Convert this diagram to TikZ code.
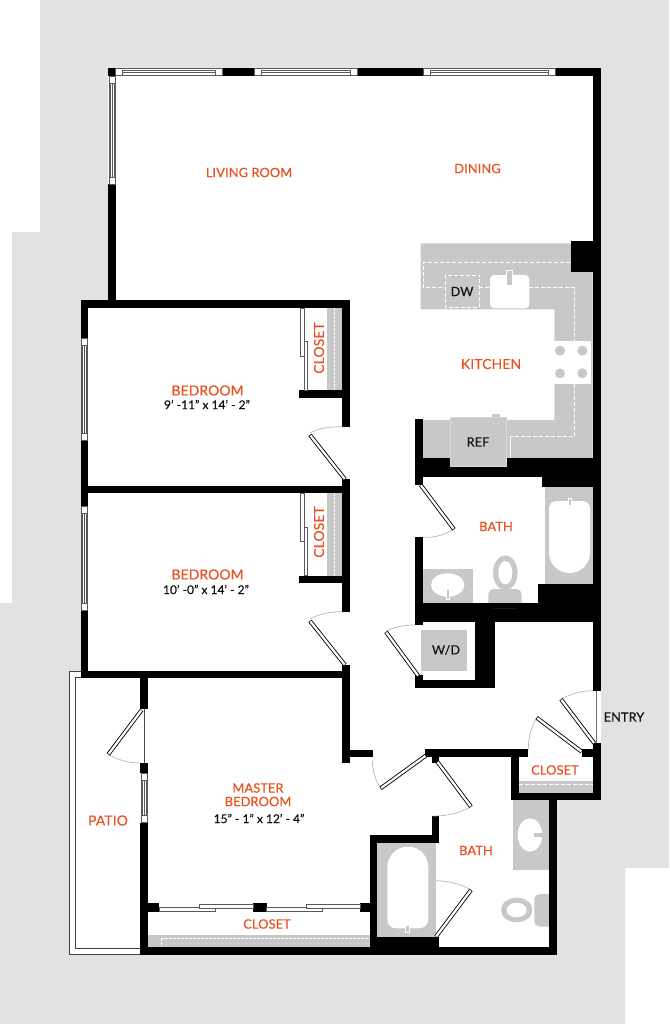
\documentclass[tikz,border=0pt]{standalone}
\usepackage{fontspec}
\setmainfont{Lato}
\definecolor{bggrey}{HTML}{E2E2E2}
\definecolor{fixt}{HTML}{C8C8C8}
\definecolor{lab}{HTML}{E8501F}
\definecolor{ink}{HTML}{111111}
\definecolor{arcgrey}{HTML}{B4B4B4}
\tikzset{
  roomlabel/.style={text=lab,font=\fontsize{9.6}{11}\selectfont\addfontfeature{LetterSpace=1,FakeBold=0.25},inner sep=0pt,align=center},
  roomlabelbig/.style={text=lab,font=\fontsize{10.4}{12}\selectfont\addfontfeature{LetterSpace=1,FakeBold=0.25},inner sep=0pt,align=center},
  dimlabel/.style={text=ink,font=\fontsize{9}{10}\selectfont\addfontfeature{FakeBold=0.25},inner sep=0pt},
  fixlabel/.style={text=ink,font=\fontsize{9.5}{11}\selectfont\addfontfeature{LetterSpace=1,FakeBold=0.25},inner sep=0pt},
  swing/.style={draw=arcgrey,line width=.5pt},
  whitedash/.style={draw=white,line width=.5pt,dash pattern=on 3pt off 1.5pt},
  fixture/.style={fill=fixt},
  basin/.style={fill=white},
  windowline/.style={draw=black!65,line width=.4pt},
}
\newcommand{\wl}[4]{\fill[black] (#1,#2) rectangle (#3,#4);}
\newcommand{\doorleaf}[4]{\draw[black,line width=3pt] (#1,#2) -- (#3,#4);\draw[white,line width=1.7pt,shorten <=.3pt,shorten >=.5pt] (#1,#2) -- (#3,#4);}
\newcommand{\hwin}[3]{% x1 x2 y-top
  \filldraw[fill=white,windowline] (#1,#3+.5) rectangle (#2,#3+7);
  \draw[windowline] (#1+7,#3+2) rectangle (#2-7,#3+7);
  \draw[windowline] (#1+7,#3+4.5) -- (#2-7,#3+4.5);
}
\newcommand{\vwin}[3]{% y1 y2 x-left
  \filldraw[fill=white,windowline] (#3+.5,#1) rectangle (#3+6.5,#2);
  \draw[windowline] (#3+1.5,#1+7) rectangle (#3+5.5,#2-7);
  \draw[windowline] (#3+3.5,#1+7) -- (#3+3.5,#2-7);
}
\begin{document}
\begin{tikzpicture}[x=.75pt,y=-.75pt]
\useasboundingbox (0,0) rectangle (669,1024);
% site
\fill[bggrey] (40,0) -- (669,0) -- (669,868) -- (625,868) -- (625,1024) -- (0,1024) -- (0,603) -- (12,603) -- (12,232) -- (40,232) -- cycle;
\fill[white] (108,68) -- (601,68) -- (601,800) -- (557,800) -- (557,955) -- (69,955) -- (69,672) -- (81,672) -- (81,300) -- (108,300) -- cycle;
% patio outline
\draw[black!75,line width=.45pt] (141,954) -- (69,954) -- (69,671.7) -- (81,671.7);
\draw[black!75,line width=.45pt] (141,948.7) -- (75.7,948.7) -- (75.7,677.3) -- (141,677.3);
% kitchen counter
\fill[fixt] (420.7,243.3) -- (592.7,243.3) -- (592.7,458) -- (423,458) -- (423,420) -- (554.3,420) -- (554.3,309.3) -- (420.7,309.3) -- cycle;
\draw[whitedash] (570,262.3) -- (423.3,262.3) -- (423.3,287.3) -- (445.7,287.3);
\draw[whitedash] (479.3,287.3) -- (490,287.3);
\draw[whitedash] (529.3,287.3) -- (574,287.3) -- (574,340.7);
\draw[whitedash] (574,384) -- (574,436.7) -- (510,436.7) -- (510,458);
\draw[whitedash] (445.7,275) rectangle (479.3,307.3);
\fill[basin,rounded corners=3pt] (490,275) rectangle (529.3,308.3);
\filldraw[fill=fixt,draw=white,line width=.6pt] (506.7,270) rectangle (512.3,285);
\fill[white] (551.7,340.7) rectangle (591,384);
\foreach \cx/\cy in {560/350.7,582.3/350.7,560/373.3,582.3/373.3}{\fill[fixt] (\cx,\cy) circle [radius=5];}
% walls
\wl{108}{68}{115.7}{76}
\wl{222}{68}{254}{76}
\wl{357}{68}{423}{76}
\wl{555}{68}{601}{76}
\wl{593}{68}{601}{691}
\wl{570.7}{240.7}{593}{272.3}
\wl{108}{184}{115.7}{304}
\wl{80.7}{300}{350}{308}
\wl{80.7}{300}{88}{338}
\wl{80.7}{440.7}{88}{493.3}
\wl{80.7}{485.7}{88}{506.7}
\wl{80.7}{610}{88}{678.3}
\wl{80.7}{485.7}{350}{493.3}
\wl{80.7}{671}{350}{678.3}
\wl{342.3}{300}{350}{426.7}
\wl{342.3}{479.3}{350}{611.7}
\wl{342.3}{665}{350}{763.3}
\wl{350}{750}{372.7}{757.3}
\wl{299}{390}{342.3}{397.7}
\wl{299}{575.7}{342.3}{582.7}
\wl{140}{678}{147.7}{709}
\wl{140}{763}{147.7}{773}
\wl{140}{822.7}{147.7}{955}
\wl{140}{947.3}{556.7}{955}
\wl{148}{903.3}{159}{911.7}
\wl{253.3}{903.3}{266.7}{911.7}
\wl{360}{903.3}{372}{911.7}
% kitchen / bath core
\wl{415.3}{419.3}{423}{485}
\wl{415.3}{458}{593}{477.3}
\wl{542.3}{477}{593}{487.3}
\wl{415.3}{537.3}{423}{603}
\wl{538.3}{584.3}{593}{603}
\wl{415.3}{602.7}{593}{621.7}
\wl{475}{621.7}{495}{688}
\wl{415}{680}{495}{687.7}
\wl{415}{675}{423}{680}
\wl{415.3}{620}{423}{625}
% master bath and closet
\wl{425}{749.3}{528.3}{757.3}
\wl{431.7}{757}{439.3}{762.7}
\wl{431.7}{816}{439.3}{842.7}
\wl{370}{835}{439.3}{842.7}
\wl{370}{835}{377.3}{955}
\wl{370}{936.7}{439.3}{955}
\wl{511}{757}{519}{800}
\wl{511}{792.7}{600.7}{800}
\wl{592.7}{743.3}{600.7}{800}
\wl{581.7}{749.3}{593}{757.3}
\wl{549.3}{800}{556.7}{955}
% ref
\filldraw[fill=fixt,draw=white!85!black,line width=.6pt] (450,417.3) rectangle (506,466.7);
\fill[fixt] (491.7,414.3) rectangle (500,417);
\draw[whitedash] (510,436.7) -- (510,458);
% windows
\hwin{115.7}{222}{68}
\hwin{254}{357}{68}
\hwin{423}{555}{68}
\vwin{76}{184}{108.5}
\vwin{338}{440.7}{81}
\vwin{506.7}{610}{81}
\vwin{773}{822.7}{141}
% closets bedrooms
\fill[fixt] (327.3,308) rectangle (342.3,390);
\fill[fixt] (327.3,493.3) rectangle (342.3,575.7);
\draw[white,line width=.3pt,dash pattern=on 2pt off 1pt] (334.5,308) -- (334.5,390);
\draw[white,line width=.3pt,dash pattern=on 2pt off 1pt] (334.5,493.3) -- (334.5,575.7);
\foreach \t/\b in {308/390,493.3/575.7}{
  \draw[windowline,fill=white] (300.7,\t) rectangle (304.3,\t+48);
  \draw[windowline,fill=white] (304.3,\t+33.5) rectangle (307.7,\b);
}
% master closet
\fill[fixt] (147.7,935) rectangle (370,947.3);
\draw[white,line width=.25pt,dash pattern=on 2pt off 1pt] (161,938) -- (370,938);
\draw[white,line width=.5pt,dash pattern=on 2pt off 1pt] (161,938) -- (161,947);
\draw[windowline,fill=white] (159,907.3) rectangle (215,911);
\draw[windowline,fill=white] (199.3,904.3) rectangle (253.3,908.3);
\draw[windowline,fill=white] (266.7,907.3) rectangle (322.3,911);
\draw[windowline,fill=white] (306.7,904.3) rectangle (360,908.3);
% entry closet shelf
\fill[fixt] (519,780.7) rectangle (592.7,792.7);
\draw[white,line width=.5pt,dash pattern=on 3pt off 1.5pt] (519,784) -- (592.7,784);
% tub upper bath
\fill[fixt] (545,487.3) rectangle (592.7,584.3);
\fill[white] (549,510) .. controls (549,503) and (552,501) .. (558,501) -- (581,501) .. controls (587,501) and (590,503) .. (590,510) -- (590,552) .. controls (590,565) and (580,573) .. (569.5,573) .. controls (559,573) and (549,565) .. (549,552) -- cycle;
\filldraw[fill=fixt,draw=white,line width=.4pt] (568.3,498.5) rectangle (571.7,505);
% sink upper bath
\fill[fixt] (423,569.3) rectangle (472.7,603);
\fill[white] (447.7,585) ellipse [x radius=16.7,y radius=11.7];
\filldraw[fill=fixt,draw=white,line width=.4pt] (445.8,589) rectangle (449.6,599);
% toilet upper bath
\fill[fixt] (505.3,572.7) ellipse [x radius=12.3,y radius=17.3];
\fill[white] (505.3,572.7) ellipse [x radius=7,y radius=11.7];
\fill[fixt,rounded corners=4pt] (488.3,608) -- (488.3,589) -- (521.7,589) -- (521.7,608) -- cycle;
\wl{488}{603}{522}{608}
% W/D
\fill[fixt] (420.7,630) rectangle (466.7,671);
% master tub
\fill[fixt] (377.3,842.7) rectangle (436,936.7);
\fill[white] (387.3,868) .. controls (387.3,856) and (396,846.7) .. (407.8,846.7) .. controls (420,846.7) and (428.3,856) .. (428.3,868) -- (428.3,918) .. controls (428.3,925) and (425,928.3) .. (418,928.3) -- (397,928.3) .. controls (390.5,928.3) and (387.3,925) .. (387.3,918) -- cycle;
\filldraw[fill=fixt,draw=white,line width=.4pt] (405.2,925.5) rectangle (408.8,932);
% master sink
\fill[fixt] (513.3,800) rectangle (549.3,870);
\fill[white] (530,835) ellipse [x radius=12.3,y radius=16.7];
\fill[fixt] (534,832.7) rectangle (544.3,837.3);
% master toilet
\fill[fixt] (516.7,910) ellipse [x radius=15.7,y radius=12.3];
\fill[white] (516.7,910) ellipse [x radius=10,y radius=7.3];
\fill[fixt,rounded corners=4pt] (554,894) -- (534.3,894) -- (534.3,926.7) -- (554,926.7) -- cycle;
\wl{549.3}{890}{556.7}{930}
% door swings
\draw[swing] (310,433) .. controls (319,428) and (330,426.7) .. (342.3,426.7);
\draw[swing] (310,619) .. controls (319,614) and (330,611.7) .. (342.3,611.7);
\draw[swing] (108.3,754.3) .. controls (118,760) and (128,763) .. (140,763);
\draw[swing] (454,529.3) .. controls (444,535) and (434,538) .. (423,537.3);
\draw[swing] (386,631) .. controls (396,626.5) and (405,625) .. (415.3,625);
\draw[swing] (372.3,760) .. controls (372.5,770) and (375,780) .. (380.7,788.3);
\draw[swing] (471,806.7) .. controls (460,813) and (447,816) .. (433,816);
\draw[swing] (436,880.7) .. controls (449,881) and (461,884) .. (471,890);
\draw[swing] (561,699.3) .. controls (570,694) and (582,690.7) .. (593,690.7);
\draw[swing] (536.7,717.7) .. controls (531,727) and (528.3,738) .. (528.3,750);
\draw[black!70,line width=.5pt] (144,709) -- (144,763);
\draw[black!55,line width=.6pt] (596.7,690.7) -- (596.7,743.3);
% door leaves
\doorleaf{345}{479.3}{310}{435}
\doorleaf{345}{665}{310}{621}
\doorleaf{141.7}{710}{108.3}{754.3}
\doorleaf{420.7}{485}{454}{529.3}
\doorleaf{418.3}{676}{386}{632}
\doorleaf{425.7}{755.7}{380.7}{788.3}
\doorleaf{437.3}{761.7}{471}{806.7}
\doorleaf{436}{936.7}{471}{890}
\doorleaf{594.3}{743.3}{561}{699.3}
\doorleaf{581.7}{751.7}{536.7}{717.7}
% labels
\node[roomlabel] (living) at (249,172.5) {LIVING ROOM};
\node[roomlabel] (dining) at (477.5,168.5) {DINING};
\node[roomlabelbig] (kitchen) at (491,364) {KITCHEN};
\node[fixlabel] (dw) at (462,291.5) {DW};
\node[fixlabel] (ref) at (478,442) {REF};
\node[roomlabelbig] (bed1) at (207.5,390.5) {BEDROOM};
\node[dimlabel] (dim1) at (207,404.5) {9’ -11” x 14’ - 2”};
\node[roomlabelbig,rotate=90] (clo1) at (319,348) {CLOSET};
\node[roomlabelbig,rotate=90] (clo2) at (319,532) {CLOSET};
\node[roomlabelbig] (bed2) at (207.5,574.5) {BEDROOM};
\node[dimlabel] (dim2) at (206,589.5) {10’ -0” x 14’ - 2”};
\node[roomlabel] (bath1) at (496,526.5) {BATH};
\node[fixlabel] (wd) at (446,650) {W/D};
\node[fixlabel] (entry) at (624,717) {ENTRY};
\node[roomlabel] (clo3) at (555,770) {CLOSET};
\node[roomlabel] (bath2) at (476,850.5) {BATH};
\node[roomlabel] (master) at (258,788) {MASTER};
\node[roomlabel] (masterb) at (258,801.5) {BEDROOM};
\node[dimlabel] (dim3) at (259,818.5) {15” - 1” x 12’ - 4”};
\node[roomlabelbig] (patio) at (108,820.5) {PATIO};
\node[roomlabel] (clo4) at (267,924) {CLOSET};
\end{tikzpicture}
\end{document}
